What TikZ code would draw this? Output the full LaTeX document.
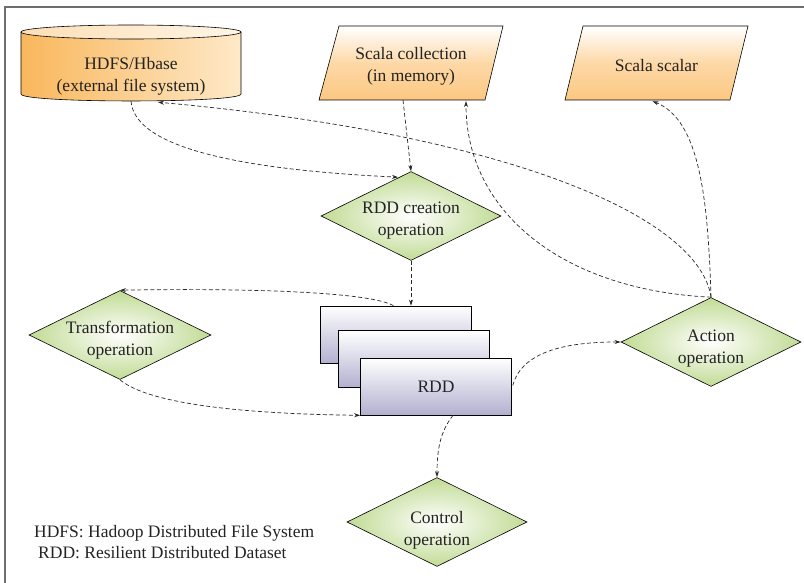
\documentclass[tikz,border=0pt]{standalone}
\usepackage{fontspec}
\setmainfont{Liberation Serif}
\usetikzlibrary{shapes.geometric,arrows.meta,calc}
\definecolor{orD}{RGB}{249,183,92}
\definecolor{orL}{RGB}{254,233,200}
\definecolor{orB}{RGB}{252,200,130}
\definecolor{grn}{RGB}{193,219,148}
\definecolor{lav}{RGB}{178,176,208}
\definecolor{framec}{RGB}{110,110,110}
\definecolor{ink}{RGB}{40,40,40}
\definecolor{txt}{RGB}{35,35,35}
\begin{document}
\begin{tikzpicture}[x=1pt,y=-1pt,font=\fontsize{17.5}{22}\selectfont, text=txt,
  conn/.style={draw=ink, line width=0.7pt, dash pattern=on 4pt off 2.5pt, -{Stealth[length=6pt,width=4pt]}},
  opdia/.style={diamond, draw=black, line width=0.6pt, inner sep=0pt, minimum width=180pt, minimum height=89pt, inner color=white, outer color=grn},
  rddbox/.style={rectangle, draw=black, line width=0.6pt, minimum width=151pt, minimum height=57pt, top color=white, bottom color=lav},
  txtbox/.style={inner sep=0pt, align=center},
  shapeline/.style={draw=black, line width=0.6pt},
  dialabel/.style={align=center, yshift=-5pt}]
\useasboundingbox (0,0) rectangle (804,583);
% frame
\draw[framec, line width=1.3pt] (5,583) -- (5,7) -- (804,7);
% cylinder
\shade[left color=orD, right color=orL] (21,32) -- (21,94) .. controls (21,103.3) and (241,103.3) .. (241,94) -- (241,32) -- cycle;
\draw[shapeline] (21,32) -- (21,94) .. controls (21,103.3) and (241,103.3) .. (241,94) -- (241,32);
\shade[left color=orD!45!white, right color=orL!45!white] (131,32) ellipse [x radius=110, y radius=7];
\draw[shapeline] (131,32) ellipse [x radius=110, y radius=7];
\node[txtbox, minimum width=220pt, minimum height=50pt] (hdfs) at (131,76) {HDFS/Hbase\\(external file system)};
% parallelograms
\path[shapeline, top color=white, bottom color=orB, middle color=orB!70!white] (319,100) -- (339,26) -- (503,26) -- (485,100) -- cycle;
\node[txtbox, minimum width=184pt, minimum height=68pt] (coll) at (411,66) {Scala collection\\(in memory)};
\path[shapeline, top color=white, bottom color=orB, middle color=orB!70!white] (565,100) -- (583,26) -- (748,26) -- (730,100) -- cycle;
\node[txtbox, minimum width=183pt, minimum height=68pt] (scal) at (656.5,66) {Scala scalar};
% diamonds
\node[opdia, label={[dialabel]center:RDD creation\\operation}] (cre) at (411,216) {};
\node[opdia, minimum width=182pt, label={[dialabel]center:Transformation\\operation}] (trans) at (120,335) {};
\node[opdia, label={[dialabel, yshift=-2pt]center:Action\\operation}] (act) at (711,342) {};
\node[opdia, label={[dialabel, yshift=-3pt]center:Control\\operation}] (ctrl) at (437,522) {};
% RDD stack
\node[rddbox] (rdd1) at (395.5,334.5) {};
\node[rddbox] (rdd2) at (414,359) {};
\node[rddbox] (rdd3) at (436,386.5) {\raisebox{-3pt}{RDD}};
% legend
\node[anchor=west, inner sep=0pt] (leg1) at (34,533) {HDFS: Hadoop Distributed File System};
\node[anchor=west, inner sep=0pt] (leg2) at (38,553) {RDD: Resilient Distributed Dataset};
% connectors
\draw[conn] (hdfs.south) .. controls (135,150) and (250,170) .. ($(cre.north)+(-13,6)$);
\draw[conn] ($(coll.south)+(-8,0)$) -- (cre.north);
\draw[conn] (cre.south) -- ($(rdd1.north)+(15.5,0)$);
\draw[conn] (act.north) .. controls (708,200) and (700,120) .. ($(scal.south)+(-4,1)$);
\draw[conn] (act.north) .. controls (560,290) and (466,210) .. ($(coll.south)+(55,1)$);
\draw[conn] (act.north) .. controls (700,220) and (520,135) .. ($(hdfs.south)+(27,1)$);
\draw[conn] ($(rdd1.north)+(-2,0)$) .. controls (370,292) and (250,288) .. (trans.north);
\draw[conn] (trans.south) .. controls (150,405) and (250,414) .. (rdd3.south west);
\draw[conn] ($(rdd3.east)+(1,-1)$) .. controls (522,350) and (570,342) .. (act.west);
\draw[conn] ($(rdd3.south)+(17,0)$) .. controls (440,432) and (437,450) .. (ctrl.north);
\end{tikzpicture}
\end{document}
